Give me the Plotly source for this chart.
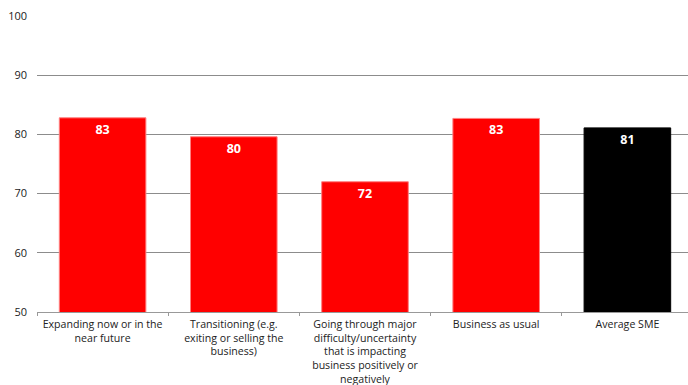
import plotly.graph_objects as go

categories = [
    "Expanding now or in the<br>near future",
    "Transitioning (e.g.<br>exiting or selling the<br>business)",
    "Going through major<br>difficulty/uncertainty<br>that is impacting<br>business positively or<br>negatively",
    "Business as usual",
    "Average SME",
]
values = [82.8, 79.6, 72.0, 82.7, 81.1]
bar_colors = ["#ff0000", "#ff0000", "#ff0000", "#ff0000", "#000000"]
edge_colors = ["#ff8080", "#ff8080", "#ff8080", "#ff8080", "#000000"]
y_ticks = [50, 60, 70, 80, 90, 100]

labels = [f"<b>{v:.0f}</b>" for v in values]

fig = go.Figure(
    go.Bar(
        x=categories,
        y=values,
        marker=dict(color=bar_colors, line=dict(color=edge_colors, width=1)),
        width=0.66,
        text=labels,
        textposition="inside",
        insidetextanchor="end",
        textangle=0,
        textfont=dict(family="Noto Sans", size=12.5, color="white"),
    )
)

fig.update_layout(
    width=688,
    height=385,
    margin=dict(l=37, r=0, t=16, b=73, autoexpand=False),
    paper_bgcolor="white",
    plot_bgcolor="white",
    showlegend=False,
    font=dict(family="Open Sans", size=10.6, color="#222222"),
)

# the last category runs slightly past the right edge of the page
fig.update_xaxes(
    automargin=False,
    range=[-0.5, 4.462],
    tickangle=0,
    showgrid=False,
    showline=True,
    linecolor="#999999",
    linewidth=1,
    ticks="outside",
    tickson="boundaries",
    ticklen=3,
    tickcolor="#999999",
    ticklabelstandoff=2,
    tickfont=dict(family="Open Sans", size=10.6, color="#222222"),
)

fig.update_yaxes(
    automargin=False,
    range=[50, 100],
    tickvals=y_ticks,
    showgrid=True,
    gridcolor="#8c8c8c",
    gridwidth=1,
    zeroline=False,
    showline=False,
    ticks="",
    ticklabelstandoff=9,
    tickfont=dict(family="Open Sans", size=11, color="#222222"),
)

fig.write_html("out.html")
